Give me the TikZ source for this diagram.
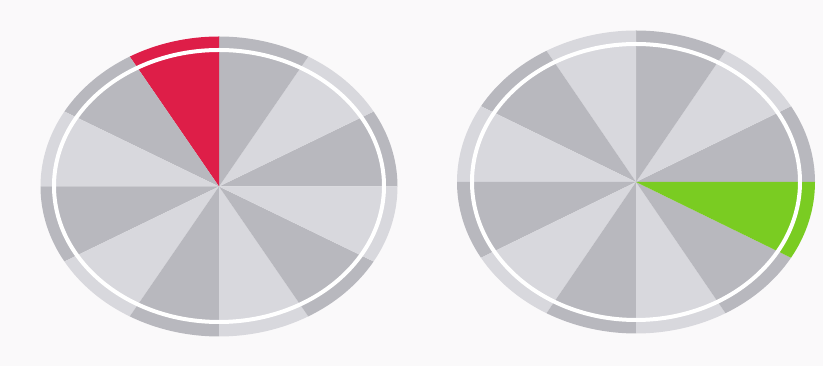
\documentclass[tikz,border=0pt]{standalone}
\usetikzlibrary{calc}
\definecolor{bgc}{RGB}{250,249,250}
\definecolor{darkg}{RGB}{184,184,190}
\definecolor{lightg}{RGB}{216,216,221}
\definecolor{redw}{RGB}{222,30,72}
\definecolor{greenw}{RGB}{122,204,34}
\tikzset{
  whitering/.style={draw=white,line width=4pt},
}
\newcommand{\pieell}[6]{%
  % #1 center x, #2 center y, #3 outer a, #4 outer b, #5 highlight start angle, #6 highlight colour
  \foreach \s [count=\i from 0] in {0,30,...,330}{
    \pgfmathsetmacro{\e}{\s+30}
    \pgfmathtruncatemacro{\pp}{mod(\i,2)}
    \ifnum\pp=0 \def\col{darkg}\else\def\col{lightg}\fi
    \ifnum\s=#5 \def\col{#6}\fi
    \fill[\col] (#1,#2) -- ++(\s:#3 and #4) arc[start angle=\s,end angle=\e,x radius=#3,y radius=#4] -- cycle;
  }
}
\begin{document}
\begin{tikzpicture}[x=1pt,y=1pt]
\useasboundingbox (0,0) rectangle (823,366);
\fill[bgc] (0,0) rectangle (823,366);
% left chart
\pieell{219}{179.5}{178.5}{150}{90}{redw}
\draw[whitering] (219,180) ellipse[x radius=165,y radius=136];
% right chart
\pieell{636}{184}{179}{151.5}{330}{greenw}
\draw[whitering] (636,184) ellipse[x radius=164,y radius=138];
\end{tikzpicture}
\end{document}
